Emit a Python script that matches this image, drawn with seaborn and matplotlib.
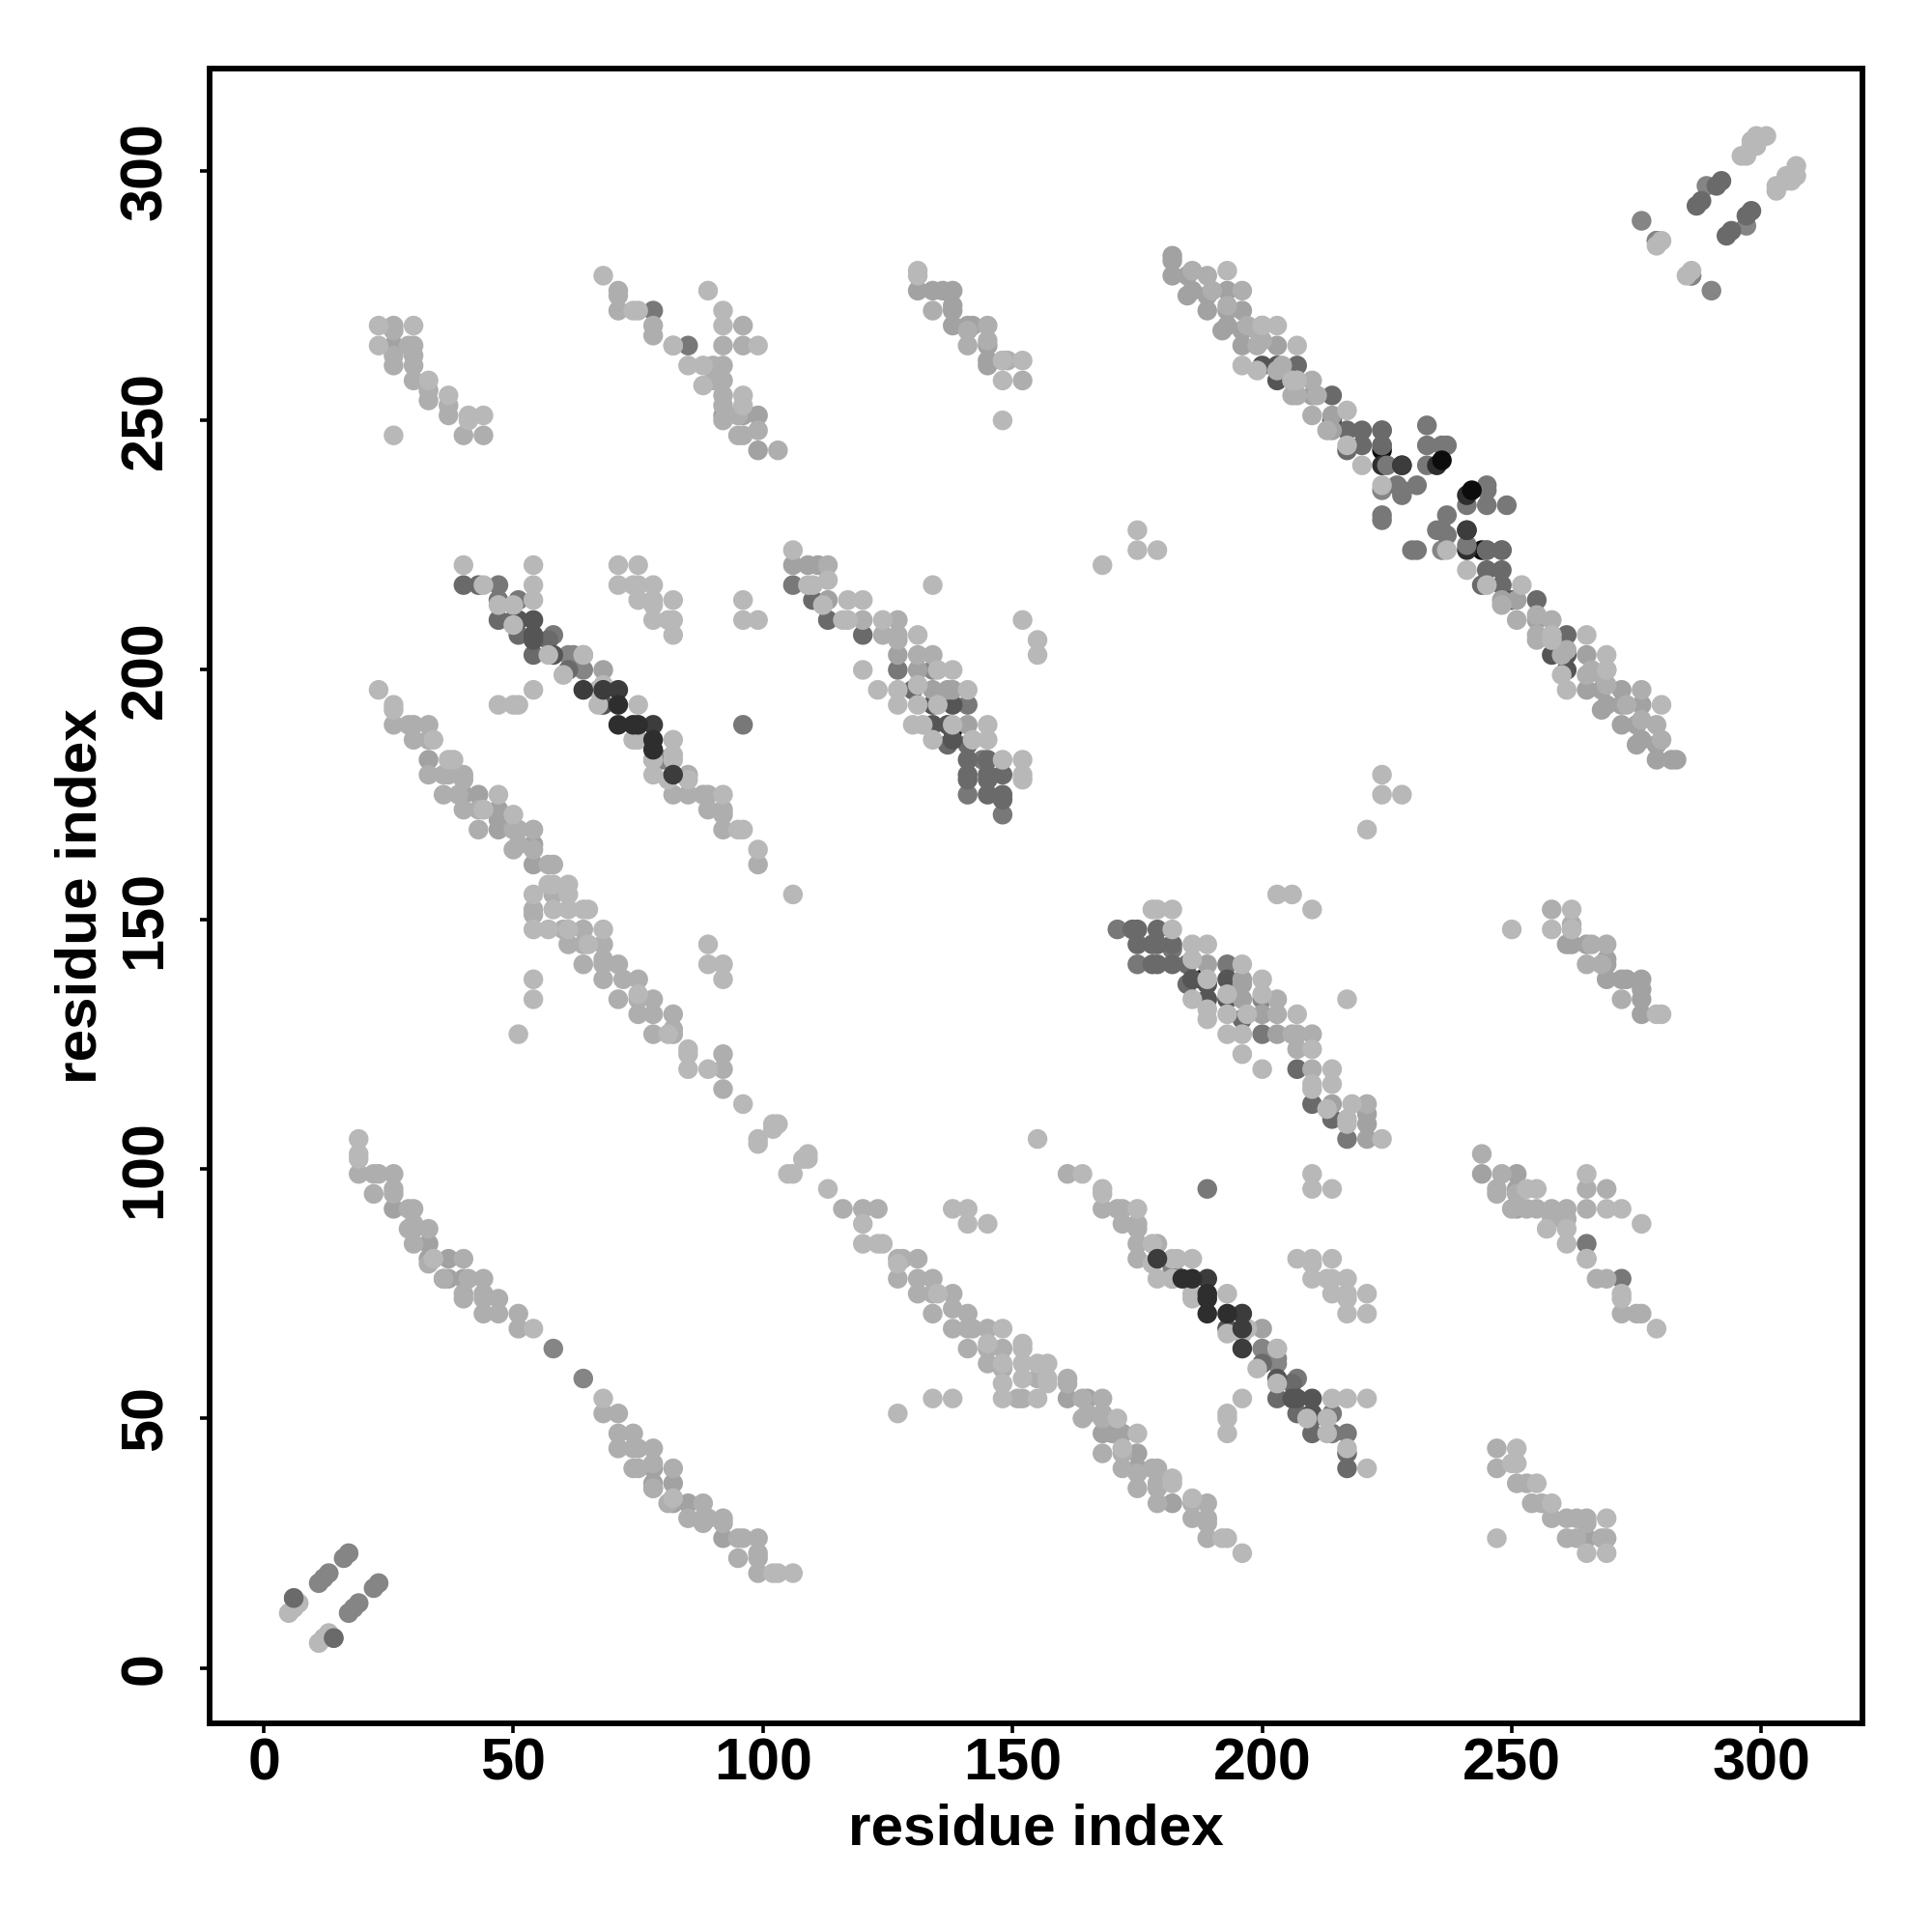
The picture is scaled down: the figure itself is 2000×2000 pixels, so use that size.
import pandas as pd
import seaborn as sns
import matplotlib
matplotlib.use("Agg")
import matplotlib.pyplot as plt

sns.set_theme(style="white")
plt.rcParams['font.family'] = ['Liberation Sans', 'DejaVu Sans']

tick_values = [0, 50, 100, 150, 200, 250, 300]

# contacts are symmetric, only i < j is listed, grouped by grey level
# these are drawn first, so the light points can cover them
grey_10 = [(138,188),(224,244)]
grey_2e = [(224,241)]
grey_88 = [(78,182),(80,182),(224,236),(6,14),(11,17),(12,18),(13,19),(16,22),(17,23),
           (279,286),(286,279),(276,290),(289,297),(134,200),(61,203),(62,203),(64,200)]
grey_77 = [(78,272),(85,265),(106,217),(127,200),(141,193),(144,182),(141,175),(148,171),
           (47,217),(47,214),(51,214),(58,207),(225,241),(224,245),(233,245),(236,245),
           (237,245),(233,249),(233,241),(224,231),(224,230),(227,237),(231,237),(228,236),
           (228,235),(96,189),(224,248)]
grey_6a = [(110,214),(113,210),(120,207),(130,196),(137,185),(141,185),(141,182),(145,182),
           (141,179),(141,178),(145,179),(145,178),(148,179),(145,175),(148,175),(148,174),
           (40,217),(43,217),(47,210),(50,210),(51,207),(54,203),(57,206),(61,200),
           (207,261),(214,255),(217,248),(220,248),(217,244),(220,245),
           (287,293),(288,294),(291,297),(292,298)]
grey_55 = [(134,193),(134,189),(138,193),(137,189),(138,186),(51,210),(54,210),(54,207),
           (54,206),(58,203),(68,193),(200,261),(203,261),(203,258),(214,250)]
grey_a0 = [(134,196),(137,196),(138,196),(141,189),(26,265),(92,251),(96,251),(99,251),
           (99,244),(145,265),(131,276),(134,276),(136,276),(138,276),(138,273),(138,272),
           (138,269),(141,269),(142,269),(145,262),(145,261),(106,221),(109,221),(111,221),
           (113,214),(127,203),(131,200),(33,82),(37,82),(37,78),(36,78),(40,78),(26,92),
           (33,85),(47,172),(47,170),(47,168),(54,165),(54,161),(40,175),(43,175),(33,182),
           (182,283),(182,282),(182,279),(185,279),(186,276),(189,272),(193,276),(193,272),
           (196,272),(192,268),(193,269),(196,268),(196,265),(200,269),(203,265),(214,248),
           (214,251),(210,255),(68,200),(64,203),(185,275),(189,275)]
light_ac = [(26,269),(26,268),(26,263),(26,261),(29,265),(30,265),(30,263),(30,261),(30,258),
            (33,256),(33,254),(37,253),(37,251),(40,247),(44,247),(71,276),(71,275),(71,272),
            (78,269),(78,267),(82,265),(92,265),(96,269),(96,265),(90,261),(92,261),(90,258),
            (92,258),(92,255),(92,253),(92,250),(95,251),(96,247),(95,247),(99,248),(103,244),
            (134,272),(141,268),(141,265),(145,269),(145,266),(148,262),(149,262),(152,258),
            (113,221),(127,210),(127,207),(127,206),(124,207),(120,210),(131,203),(134,203),
            (19,99),(22,99),(23,99),(22,95),(26,99),(26,96),(26,95),(29,92),(30,92),(30,89),
            (29,88),(30,88),(33,88),(30,85),(33,81),(34,82),(36,78),(40,82),(40,75),(40,74),
            (41,78),(44,78),(44,75),(44,74),(44,71),(47,71),(47,74),(51,71),(51,68),
            (26,189),(29,189),(30,189),(33,189),(30,186),(33,186),(33,179),(36,179),(37,179),
            (40,179),(40,178),(36,175),(39,175),(40,172),(43,172),(44,172),(43,168),(50,168),
            (51,168),(54,168),(50,164),(51,165),(54,164),(57,161),(58,161),(58,155),(54,152),
            (54,151),(60,148),(64,148),(61,145),(64,145),(68,145),(64,141),(68,142),(68,141),
            (71,141),(68,138),(72,138),(75,138),(71,134),(75,134),(78,134),(75,131),(78,131),
            (82,131),(78,127),(82,128),(82,127),(85,175),(82,175),(88,175),(89,175),(89,172),
            (92,172),(92,171),(92,168),(85,179),(99,161),(92,123),(92,120),(92,116),
            (186,280),(189,279),(190,276),(193,273),(196,276),(197,269),(199,268),(200,266),
            (199,265),(203,260),(206,258),(206,255),(207,255),(207,258),(210,258),(210,251),
            (211,255),(213,248),(204,261)]
light_b8 = [(23,269),(30,269),(23,265),(41,251),(41,250),(44,251),(26,247),(33,258),(37,255),
            (68,279),(74,272),(75,272),(82,265),(89,276),(92,272),(92,269),(99,265),(85,261),
            (88,261),(88,257),(96,255),(96,253),(131,280),(131,279),(145,189),(145,186),
            (148,262),(152,262),(148,258),(148,250),(106,224),(109,217),(110,217),(113,218),
            (112,213),(117,214),(120,214),(116,210),(117,210),(124,210),(131,207),(120,200),
            (135,200),(138,200),(123,196),(127,196),(131,197),(141,196),(127,193),(131,193),
            (135,193),(130,189),(132,189),(138,189),(134,186),(142,186),(148,182),(152,182),
            (152,179),(152,178),(134,217),(152,210),(155,206),(155,203),
            (40,221),(54,221),(71,221),(75,221),(44,217),(54,217),(71,217),(74,217),(75,217),
            (78,217),(47,213),(50,213),(54,214),(75,214),(78,214),(78,213),(82,214),(96,214),
            (78,210),(81,210),(82,210),(96,210),(99,210),(82,207),(50,209),(57,203),(60,199),
            (64,203),(68,197),(67,196),(67,193),(75,193),(74,186),(75,186),(82,186),(78,182),
            (82,183),(82,182),(78,179),(81,178),(85,178),(92,175),(95,168),(96,168),(99,164),
            (106,155),(54,196),(47,193),(50,193),(51,193),(23,196),(26,193),(26,192),(34,186),
            (37,182),(38,182),(47,175),(44,172),(50,171),(57,157),(58,157),(61,157),(61,155),
            (54,155),(58,152),(61,152),(64,152),(65,152),(54,148),(57,148),(61,148),(68,148),
            (65,145),(75,135),(81,127),(85,124),(85,123),(85,120),(89,120),(96,113),(54,138),
            (54,134),(51,127),(89,145),(89,141),(92,141),(92,138),(99,105),(99,106),(102,108),
            (102,109),(103,109),(19,106),(19,103),(19,102),(34,82),(54,68),
            (168,221),(175,228),(175,224),(179,224),(193,280),(200,269),(203,269),(207,265),
            (196,261),(199,260),(207,258),(217,252),(217,245),(220,241),(224,237),(206,258),
            (5,11),(6,12),(7,13),(279,285),(280,286),(296,303),(297,303),(298,305),(298,306),
            (299,305),(299,307),(301,307)]
# darkest points stay on top of the light ones
grey_80_top = [(58,64)]
grey_6a_top = [(14,6),(224,245),(224,248)]
grey_3a_top = [(64,196),(68,196),(71,196),(78,189),(82,179),(228,241),(241,228)]
grey_2e_top = [(71,193),(71,189),(74,189),(75,189),(78,186),(78,184),(235,241)]
grey_10_top = [(236,242)]

tiers = [(grey_10, "#0c0c0c"), (grey_2e, "#2e2e2e"), (grey_88, "#858585"), (grey_77, "#787878"),
         (grey_6a, "#6a6a6a"), (grey_55, "#555555"), (grey_a0, "#a2a2a2"), (light_ac, "#aeaeae"),
         (light_b8, "#b8b8b8"), (grey_80_top, "#858585"), (grey_6a_top, "#6a6a6a"),
         (grey_3a_top, "#3c3c3c"), (grey_2e_top, "#2e2e2e"), (grey_10_top, "#0c0c0c")]

rows = []
for pairs, colour in tiers:
    for a, b in pairs:
        rows.append((a, b, colour))
        rows.append((b, a, colour))
df = pd.DataFrame(rows, columns=["i", "j", "colour"])

fig = plt.figure(figsize=(10, 10), dpi=200)
ax = fig.add_axes([216.5 / 2000, 1 - 1784 / 2000, 1711 / 2000, 1713 / 2000])
sns.scatterplot(data=df, x="i", y="j", hue="colour", palette={c: c for c in df.colour.unique()},
                s=54, linewidth=0, legend=False, ax=ax)

ax.set_xlim(-10.95, 320.15)
ax.set_ylim(-11.1, 320.5)
ax.set_xticks(tick_values)
ax.set_yticks(tick_values)
ax.set_xticklabels(tick_values, fontsize=22, fontweight="bold")
ax.set_yticklabels(tick_values, fontsize=22, fontweight="bold", rotation=90, va="center")
ax.tick_params(axis="both", length=3.6, width=1.3, color="black", labelcolor="black", pad=1.5, bottom=True, left=True)
ax.tick_params(axis="y", pad=9.5)
for s in ax.spines.values():
    s.set_visible(True)
    s.set_color("black")
    s.set_linewidth(2.1)
ax.set_xlabel("residue index", fontsize=21.7, fontweight="bold", color="black", labelpad=4)
ax.set_ylabel("residue index", fontsize=21.7, fontweight="bold", color="black", labelpad=4)

fig.savefig("out.png", dpi=200)
